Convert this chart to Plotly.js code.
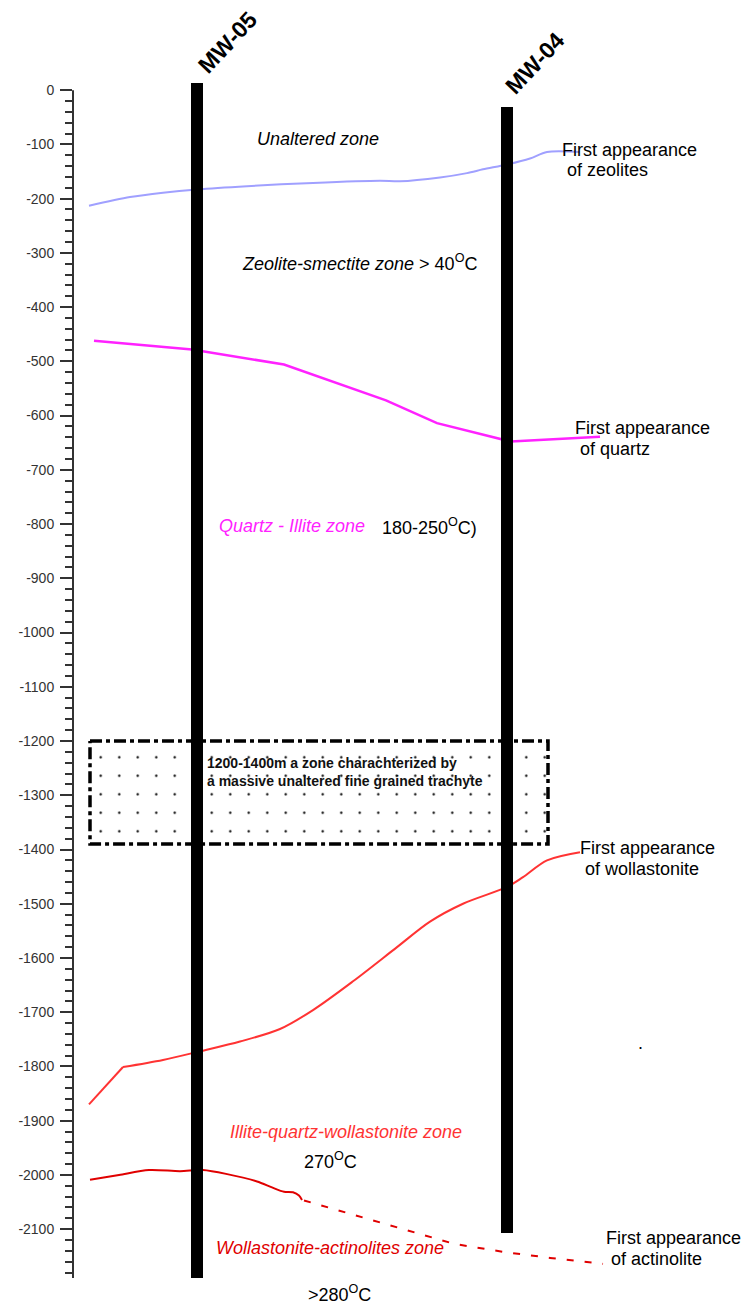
<!DOCTYPE html>
<html><head><meta charset="utf-8">
<script src="https://cdn.plot.ly/plotly-3.0.1.min.js"></script>
<style>html,body{margin:0;padding:0;background:#fff}</style>
</head><body><div id="chart" style="width:751px;height:1304px"></div>
<script>
// Depth axis ticks (m)
const yTickVals = [0,-100,-200,-300,-400,-500,-600,-700,-800,-900,-1000,-1100,-1200,-1300,-1400,-1500,-1600,-1700,-1800,-1900,-2000,-2100];
const yTickText = ['0','-100','-200','-300','-400','-500','-600','-700','-800','-900','-1000','-1100','-1200','-1300','-1400','-1500','-1600','-1700','-1800','-1900','-2000','-2100'];

// Wells (horizontal distance units, depth m)
const wellNames = ['MW-05','MW-04'];
const wellX = [124, 434];
const wellTop = [13, -31];
const wellBottom = [-2190, -2107];
const wellLabelX = [155, 462];
const wellLabelD = [88, 50];

// Alteration boundaries
const zeoliteX = [16,57,90,124,174,240,307,327,367,394,410,434,457,474,507];
const zeoliteD = [-213,-197,-189,-183,-177,-171,-167,-168,-161,-153,-146,-137,-126,-114,-114];

const quartzX = [21,119,211,313,364,438,527];
const quartzD = [-462,-478,-506,-572,-614,-648,-639];

const wollX = [16,50,90,127,167,207,240,280,324,357,390,434,450,474,507];
const wollD = [-1870,-1801,-1788,-1772,-1754,-1731,-1696,-1643,-1580,-1533,-1500,-1469,-1451,-1420,-1405];

const actSolidX = [17,46,76,107,130,153,184,199,211,220,226,229];
const actSolidD = [-2009,-2000,-1991,-1993,-1991,-1998,-2012,-2023,-2031,-2032,-2038,-2046];
const actDashX = [231,276,327,381,431,477,530];
const actDashD = [-2047,-2071,-2097,-2127,-2142,-2153,-2164];

// Trachyte zone box
const boxX = [17, 475];
const boxD = [-1200, -1390];

const FONT = 'Liberation Sans, Arial, sans-serif';
const Y_RANGE = [-2190, 15];
function depthToPaper(d) { return (d - Y_RANGE[0]) / (Y_RANGE[1] - Y_RANGE[0]); }

const traces = [];
traces.push({x:zeoliteX, y:zeoliteD, mode:'lines', line:{color:'#a0a0ff', width:2, shape:'spline', smoothing:0.8}, hoverinfo:'skip'});
traces.push({x:quartzX, y:quartzD, mode:'lines', line:{color:'#ff22ff', width:2.5}, hoverinfo:'skip'});
// first short straight segment, then smooth curve
traces.push({x:wollX.slice(0,2), y:wollD.slice(0,2), mode:'lines', line:{color:'#ff3333', width:2}, hoverinfo:'skip'});
traces.push({x:wollX.slice(1), y:wollD.slice(1), mode:'lines', line:{color:'#ff3333', width:2, shape:'spline', smoothing:0.9}, hoverinfo:'skip'});
traces.push({x:actSolidX, y:actSolidD, mode:'lines', line:{color:'#e00000', width:2, shape:'spline', smoothing:0.8}, hoverinfo:'skip'});
traces.push({x:actDashX, y:actDashD, mode:'lines', line:{color:'#e00000', width:2, dash:'7px,11px'}, hoverinfo:'skip'});
traces.push({
  x:[boxX[0],boxX[1],boxX[1],boxX[0],boxX[0]],
  y:[boxD[0],boxD[0],boxD[1],boxD[1],boxD[0]],
  mode:'lines', fill:'toself', fillcolor:'rgba(0,0,0,0)',
  fillpattern:{shape:'.', size:18.5, solidity:0.012, fgcolor:'#000', bgcolor:'rgba(0,0,0,0)'},
  line:{color:'#000', width:3.5, dash:'12px,4px,4px,4px'}, hoverinfo:'skip'
});
for (let i = 0; i < wellNames.length; i++) {
  traces.push({x:[wellX[i], wellX[i]], y:[wellTop[i], wellBottom[i]], mode:'lines', line:{color:'#000', width:12}, hoverinfo:'skip'});
}

function ann(text, x, y, opts) {
  return Object.assign({text:text, x:x, y:y, xref:'x', yref:'y', showarrow:false, xanchor:'left', yanchor:'middle',
    font:{family:FONT, size:18, color:'#000'}}, opts || {});
}

const annotations = [];
for (let i = 0; i < wellNames.length; i++) {
  annotations.push(ann('<b>' + wellNames[i] + '</b>', wellLabelX[i], depthToPaper(wellLabelD[i]),
    {yref:'paper', xanchor:'center', textangle:-47, font:{family:FONT, size:23, color:'#000'}}));
}
annotations.push(
  ann('<i>Unaltered zone</i>', 245, -90, {xanchor:'center'}),
  ann('<i>Zeolite-smectite zone</i> > 40<sup>O</sup>C', 167, -317),
  ann('First appearance', 487, -111),
  ann('\u00a0of zeolites', 487, -147),
  ann('First appearance', 500, -623),
  ann('\u00a0of quartz', 500, -662),
  ann('<i>Quartz - Illite zone</i>', 144, -804, {font:{family:FONT, size:18, color:'#ff22ff'}}),
  ann('180-250<sup>O</sup>C)', 307, -804),
  ann('<b>1200-1400m a zone charachterized by</b>', 132, -1241, {font:{family:FONT, size:14, color:'#111'}}),
  ann('<b>a massive unaltered fine grained trachyte</b>', 132, -1274, {font:{family:FONT, size:14, color:'#111'}}),
  ann('First appearance', 505, -1397),
  ann('\u00a0of wollastonite', 505, -1436),
  ann('.', 563, -1757),
  ann('<i>Illite-quartz-wollastonite zone</i>', 273, -1921, {xanchor:'center', font:{family:FONT, size:18, color:'#ff3333'}}),
  ann('270<sup>O</sup>C', 229, -1973),
  ann('<i>Wollastonite-actinolites zone</i>', 141, -2135, {font:{family:FONT, size:18, color:'#e00000'}}),
  ann('First appearance', 531, -2117),
  ann('\u00a0of actinolite', 531, -2155),
  ann('>280<sup>O</sup>C', 233, depthToPaper(-2218), {yref:'paper'})
);

const layout = {
  width:751, height:1304,
  margin:{l:73, r:0, t:82, b:26},
  paper_bgcolor:'#fff', plot_bgcolor:'#fff',
  showlegend:false,
  xaxis:{range:[0,678], visible:false, fixedrange:true},
  yaxis:{range:Y_RANGE, showgrid:false, zeroline:false, showline:false, fixedrange:true,
    tickmode:'array', tickvals:yTickVals, ticktext:yTickText,
    ticks:'outside', ticklen:12, tickwidth:2, tickcolor:'#333', ticklabelstandoff:3,
    tickfont:{family:FONT, size:14, color:'#333'},
    minor:{tickmode:'linear', tick0:0, dtick:20, ticks:'outside', ticklen:7, tickwidth:2, tickcolor:'#333'}
  },
  shapes:[{type:'line', xref:'paper', yref:'y', x0:0, x1:0, y0:0, y1:Y_RANGE[0], line:{color:'#333', width:2}}],
  annotations:annotations
};

Plotly.newPlot('chart', traces, layout, {displayModeBar:false, staticPlot:true});
</script>
</body></html>
